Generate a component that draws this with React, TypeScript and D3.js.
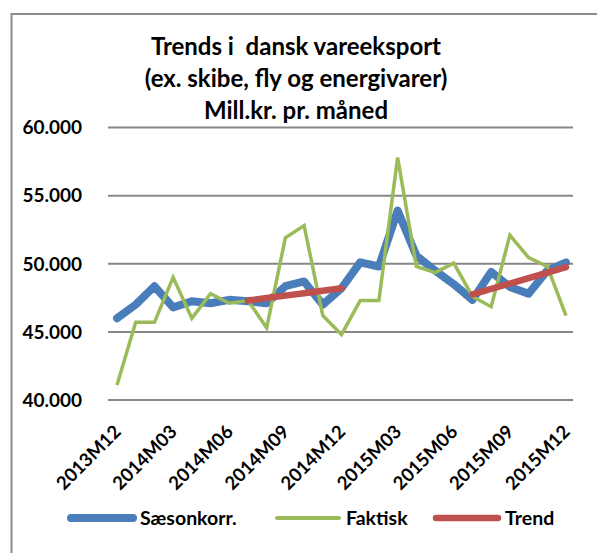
import React from "react";
import * as d3 from "d3";

const months = [
  "2013M12","2014M01","2014M02","2014M03","2014M04","2014M05","2014M06","2014M07","2014M08","2014M09","2014M10","2014M11","2014M12",
  "2015M01","2015M02","2015M03","2015M04","2015M05","2015M06","2015M07","2015M08","2015M09","2015M10","2015M11","2015M12",
];
const saesonkorr = [
  46.0, 47.0, 48.35, 46.8, 47.25, 47.1, 47.35, 47.25, 47.1, 48.35, 48.7, 47.0, 48.2,
  50.1, 49.8, 53.9, 50.6, 49.5, 48.5, 47.35, 49.4, 48.3, 47.8, 49.5, 50.1,
];
const faktisk = [
  41.1, 45.7, 45.7, 49.0, 46.0, 47.8, 47.1, 47.3, 45.3, 51.9, 52.8, 46.2, 44.8,
  47.3, 47.3, 57.8, 49.8, 49.35, 50.05, 47.6, 46.85, 52.1, 50.45, 49.8, 46.2,
];
const trend: (number | null)[] = [
  null, null, null, null, null, null, null, 47.3, 47.48, 47.66, 47.84, 48.02, 48.2,
  null, null, null, null, null, null, 47.75, 48.15, 48.55, 48.95, 49.35, 49.75,
];
const yTicks = [40, 45, 50, 55, 60];
const xTickLabels = ["2013M12","2014M03","2014M06","2014M09","2014M12","2015M03","2015M06","2015M09","2015M12"];
const titleLines = ["Trends i  dansk vareeksport", "(ex. skibe, fly og energivarer)", "Mill.kr. pr. måned"];
const legendItems = [
  { label: "Sæsonkorr.", color: "#4a7ebb", width: 8 },
  { label: "Faktisk", color: "#9bbb59", width: 4 },
  { label: "Trend", color: "#c0504d", width: 6.5 },
];

const W = 597, H = 553;
const FONT = "Lato, 'Open Sans', sans-serif";

export default function App() {
  const x = d3.scalePoint<string>().domain(months).range([117, 566]);
  const y = d3.scaleLinear().domain([40, 60]).range([400, 127.5]);

  const line = d3.line<number>()
    .x((_, i) => x(months[i])!)
    .y((d) => y(d));
  const trendLine = d3.line<number | null>()
    .defined((d) => d !== null)
    .x((_, i) => x(months[i])!)
    .y((d) => y(d as number));

  const fmt = (v: number) => d3.format(".3f")(v);
  const legendX = [71, 277, 436];

  return (
    <svg width={W} height={H} style={{ position: "absolute", left: 0, top: 0, background: "#fff" }} fontFamily={FONT}>
      <rect x={11.5} y={14} width={700} height={700} fill="#fff" stroke="#8c8c8c" strokeWidth={2} />
      {titleLines.map((t, i) => (
        <text key={i} x={296} y={55 + i * 32} textAnchor="middle" fontSize={24} fontWeight="bold" fill="#000" style={{ whiteSpace: "pre" }}>{t}</text>
      ))}
      {yTicks.map((v) => (
        <g key={v}>
          <line x1={108} x2={573} y1={y(v)} y2={y(v)} stroke="#878787" strokeWidth={2} />
          <text x={82} y={y(v)} dy="0.36em" textAnchor="end" fontSize={19} fontWeight="bold" fill="#000">{fmt(v)}</text>
        </g>
      ))}
      {xTickLabels.map((m) => (
        <text key={m} transform={`translate(${x(m)! + 5},${433}) rotate(-45)`} textAnchor="end" fontSize={18.5} fontWeight="bold" fill="#000">{m}</text>
      ))}
      <path d={line(saesonkorr)!} fill="none" stroke="#4a7ebb" strokeWidth={8} strokeLinejoin="round" strokeLinecap="round" />
      <path d={line(faktisk)!} fill="none" stroke="#9bbb59" strokeWidth={3.5} strokeLinejoin="miter" />
      <path d={trendLine(trend)!} fill="none" stroke="#c0504d" strokeWidth={6.5} strokeLinecap="round" />
      {legendItems.map((it, i) => (
        <g key={it.label}>
          <line x1={legendX[i]} x2={legendX[i] + 62} y1={518} y2={518} stroke={it.color} strokeWidth={it.width} strokeLinecap="round" />
          <text x={legendX[i] + 69} y={518} dy="0.36em" fontSize={19.5} fontWeight="bold" fill="#000">{it.label}</text>
        </g>
      ))}
    </svg>
  );
}
